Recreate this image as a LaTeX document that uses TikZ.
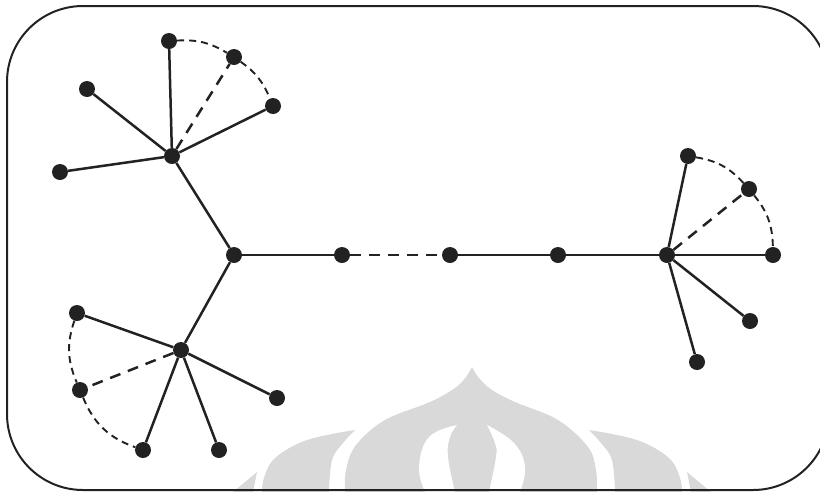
\documentclass[tikz,border=0pt]{standalone}
\definecolor{ink}{HTML}{222222}
\definecolor{wmgray}{HTML}{D9D9D9}
\begin{document}
\begin{tikzpicture}[x=1pt,y=-1pt,
  dot/.style={circle,fill=ink,inner sep=0pt,minimum size=16pt},
  edge/.style={draw=ink,line width=2.5pt},
  dedge/.style={draw=ink,line width=2.5pt,dash pattern=on 11pt off 8pt},
  arcedge/.style={draw=ink,line width=1.9pt,dash pattern=on 7pt off 5pt},
  wm/.style={fill=wmgray,draw=none}]
\useasboundingbox (0,0) rectangle (820,491);
\clip (0,0) rectangle (820,491);
% watermark
\fill[wm] plot[smooth,tension=0.6] coordinates {(345,492) (346,470) (356,445) (385,420) (430,402) (455,388) (466,377) (472,367)}
  -- plot[smooth,tension=0.6] coordinates {(472,367) (479,378) (492,390) (515,402) (558,420) (588,447) (596,470) (597,492)} -- cycle;
\fill[white] plot[smooth,tension=0.7] coordinates {(457,425) (429,437) (419,467) (425,492)}
  -- plot[smooth,tension=0.7] coordinates {(455,492) (448,457) (450,437) (457,425)} -- cycle;
\fill[white] plot[smooth,tension=0.7] coordinates {(487,425) (514,443) (525,467) (520,492)}
  -- plot[smooth,tension=0.7] coordinates {(489,492) (496,457) (495,443) (487,425)} -- cycle;
\fill[wm] plot[smooth,tension=0.6] coordinates {(355,430) (343,443) (332,460) (329,492)}
  -- plot[smooth,tension=0.6] coordinates {(262,492) (264,478) (275,458) (307,440) (355,430)} -- cycle;
\fill[wm] plot[smooth,tension=0.6] coordinates {(589,430) (601,443) (612,460) (615,492)}
  -- plot[smooth,tension=0.6] coordinates {(682,492) (680,478) (669,458) (637,440) (589,430)} -- cycle;
\fill[wm] (257,472) -- (233,492) -- (253,492) -- cycle;
\fill[wm] (687,472) -- (711,492) -- (691,492) -- cycle;
% border
\draw[ink,line width=2pt,rounded corners=76pt] (7,6) rectangle (829,490);
% nodes
\node[dot] (a) at (172,156) {};
\node[dot] (a1) at (169,41) {};
\node[dot] (a2) at (234,57) {};
\node[dot] (a3) at (273,106) {};
\node[dot] (a4) at (87,89) {};
\node[dot] (a5) at (60,172) {};
\node[dot] (b) at (234,255) {};
\node[dot] (c1) at (342,255) {};
\node[dot] (c2) at (450,255) {};
\node[dot] (c3) at (558,255) {};
\node[dot] (d) at (667,255) {};
\node[dot] (d1) at (688,156) {};
\node[dot] (d2) at (749,189) {};
\node[dot] (d3) at (773,255) {};
\node[dot] (d4) at (750,321) {};
\node[dot] (d5) at (697,362) {};
\node[dot] (e) at (181,350) {};
\node[dot] (e1) at (77,313) {};
\node[dot] (e2) at (80,390) {};
\node[dot] (e3) at (143,450) {};
\node[dot] (e4) at (219,450) {};
\node[dot] (e5) at (277,398) {};
% edges
\draw[edge] (a) -- (a1);
\draw[dedge] (a) -- (a2);
\draw[edge] (a) -- (a3);
\draw[edge] (a) -- (a4);
\draw[edge] (a) -- (a5);
\draw[edge] (a) -- (b);
\draw[arcedge] (a1) to[bend left=17] (a2);
\draw[arcedge] (a2) to[bend left=16] (a3);
\draw[edge] (b) -- (c1);
\draw[dedge] (c1) -- (c2);
\draw[edge] (c2) -- (c3);
\draw[edge] (c3) -- (d);
\draw[edge] (d) -- (d1);
\draw[dedge] (d) -- (d2);
\draw[edge] (d) -- (d3);
\draw[edge] (d) -- (d4);
\draw[edge] (d) -- (d5);
\draw[arcedge] (d1) to[bend left=19] (d2);
\draw[arcedge] (d2) to[bend left=19] (d3);
\draw[edge] (b) -- (e);
\draw[edge] (e) -- (e1);
\draw[dedge] (e) -- (e2);
\draw[edge] (e) -- (e3);
\draw[edge] (e) -- (e4);
\draw[edge] (e) -- (e5);
\draw[arcedge] (e1) to[bend right=21] (e2);
\draw[arcedge] (e2) to[bend right=24] (e3);
\end{tikzpicture}
\end{document}
